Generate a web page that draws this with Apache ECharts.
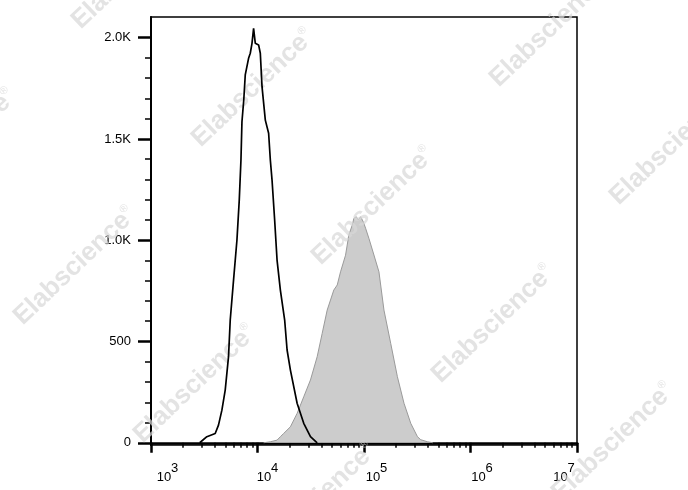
<!DOCTYPE html>
<html>
<head>
<meta charset="utf-8">
<script src="https://cdn.jsdelivr.net/npm/echarts@6/dist/echarts.min.js"></script>
<style>
html,body{margin:0;padding:0;background:#fff;}
#chart{width:688px;height:490px;}
</style>
</head>
<body>
<div id="chart"></div>
<script>
// ---- Data (fluorescence intensity, event count) ----
var blackIntensity = [2868, 3346, 4006, 4302, 4631, 4975, 5344, 5546, 5957, 6412, 6741, 6993, 7145, 7430, 7674, 8245, 8554, 8877, 9190, 9535, 10242, 10627, 11026, 11843, 12720, 13198, 13693, 14488, 15262, 16395, 17992, 18962, 20370, 23550, 27175, 31425, 36340];
var blackCount     = [0, 30, 46, 87, 161, 260, 425, 606, 803, 1001, 1198, 1396, 1585, 1692, 1816, 1898, 1923, 1972, 2046, 1972, 1964, 1923, 1758, 1593, 1528, 1396, 1297, 1100, 902, 754, 606, 458, 359, 195, 96, 30, 0];

var grayIntensity = [11413, 13198, 15262, 16395, 17614, 20370, 23550, 27175, 31425, 36340, 40490, 45110, 52060, 56070, 60220, 67090, 72070, 77600, 80340, 84620, 88370, 92900, 98490, 103540, 111220, 123940, 138160, 153970, 178070, 205900, 237500, 274700, 317700, 341200, 394500, 442600];
var grayCount     = [0, 5, 13, 30, 46, 79, 145, 227, 310, 425, 540, 655, 754, 779, 844, 926, 1026, 1075, 1108, 1116, 1100, 1116, 1091, 1059, 1009, 927, 844, 655, 491, 326, 195, 96, 30, 15, 5, 0];

// ---- Axis ticks ----
var xMajorExponents = [3, 4, 5, 6, 7];
var xMinorTickValues = [2000,3000,4000,5000,6000,7000,8000,9000,
                        20000,30000,40000,50000,60000,70000,80000,90000,
                        200000,300000,400000,500000,600000,700000,800000,900000,
                        2000000,3000000,4000000,5000000,6000000,7000000,8000000,9000000];
var yTickValues = [0, 500, 1000, 1500, 2000];
var yTickLabels = ['0', '500', '1.0K', '1.5K', '2.0K'];
var yMinorTickValues = [100,200,300,400,600,700,800,900,1100,1200,1300,1400,1600,1700,1800,1900];

// ---- build series data in log10 space ----
function toLog(xs, ys) {
  return xs.map(function (v, i) { return [Math.log10(v), ys[i]]; });
}
var blackData = toLog(blackIntensity, blackCount);
var grayData = toLog(grayIntensity, grayCount);

var FONT = "'Liberation Sans', Arial, sans-serif";

// per-label horizontal nudges (style only)
var xLabelPad = {3: [0, 0, 0, 33], 4: [0, 0, 0, 20], 5: [0, 0, 0, 25], 6: [0, 0, 0, 23], 7: [0, 26, 0, 0]};
var rich = {};
xMajorExponents.forEach(function (e) {
  rich['a' + e] = {fontSize: 13, fontFamily: FONT, color: '#000', verticalAlign: 'bottom', lineHeight: 13,
                   padding: [0, 0, 0, xLabelPad[e][3]]};
  rich['b' + e] = {fontSize: 13, fontFamily: FONT, color: '#000', verticalAlign: 'bottom', lineHeight: 13,
                   padding: [0, xLabelPad[e][1], 9, 0]};
});

// watermark lattice (decoration)
var wmCenters = [[133,-30],[253,88],[373,206],[493,324],[613,442],[551,28],[671,146],[-45,148],[75,266],[195,384],[315,502]];
var wmElements = wmCenters.map(function (c) {
  return {
    type: 'text', x: c[0], y: c[1], rotation: Math.PI / 4 * 0.97, z: 3,
    style: {
      text: 'Elabscience{r|®}',
      rich: {r: {fontSize: 11, fill: 'rgba(215,215,215,0.7)', verticalAlign: 'top', fontFamily: FONT}},
      font: "bold 26px " + FONT, fill: 'rgba(215,215,215,0.7)',
      align: 'center', verticalAlign: 'middle'
    },
    silent: true
  };
});

var chart = echarts.init(document.getElementById('chart'), null, {renderer: 'canvas'});
chart.setOption({
  animation: false,
  backgroundColor: '#fff',
  grid: {left: 151, top: 17, right: 111, bottom: 45, show: true, borderColor: '#000', borderWidth: 1.5, backgroundColor: 'transparent'},
  xAxis: [{
    type: 'value', min: 3, max: 7, interval: 1, position: 'bottom',
    axisLine: {show: true, lineStyle: {color: '#000', width: 2.5}},
    axisTick: {show: true, length: 10, lineStyle: {color: '#000', width: 2.5}},
    splitLine: {show: false},
    axisLabel: {
      show: true, margin: 26, color: '#000', fontFamily: FONT, fontSize: 13,
      formatter: function (v) {
        var e = Math.round(v);
        return '{a' + e + '|10}{b' + e + '|' + e + '}';
      },
      rich: rich
    }
  }, {
    type: 'value', min: 3, max: 7, position: 'bottom', offset: 0,
    axisLine: {show: false},
    axisLabel: {show: false},
    splitLine: {show: false},
    axisTick: {show: true, length: 5, lineStyle: {color: '#000', width: 1.5},
               customValues: xMinorTickValues.map(function (v) { return Math.log10(v); })}
  }],
  yAxis: [{
    type: 'value', min: -11, max: 2102, position: 'left',
    axisLine: {show: true, lineStyle: {color: '#000', width: 2}},
    axisTick: {show: true, length: 13, lineStyle: {color: '#000', width: 2.5}, customValues: yTickValues},
    splitLine: {show: false},
    axisLabel: {
      show: true, margin: 20, color: '#000', fontFamily: FONT, fontSize: 13,
      customValues: yTickValues,
      formatter: function (v) {
        var i = yTickValues.indexOf(Math.round(v));
        return i >= 0 ? yTickLabels[i] : '';
      }
    }
  }, {
    type: 'value', min: -11, max: 2102, position: 'left', offset: 0,
    axisLine: {show: false},
    axisLabel: {show: false},
    splitLine: {show: false},
    axisTick: {show: true, length: 6, lineStyle: {color: '#000', width: 1.5}, customValues: yMinorTickValues}
  }],
  graphic: {elements: wmElements},
  series: [{
    type: 'line', name: 'stained', data: grayData, xAxisIndex: 0, yAxisIndex: 0,
    showSymbol: false, symbol: 'none', z: 1,
    lineStyle: {color: '#9a9a9a', width: 1},
    areaStyle: {color: '#cccccc', opacity: 1}
  }, {
    type: 'line', name: 'control', data: blackData, xAxisIndex: 0, yAxisIndex: 0,
    showSymbol: false, symbol: 'none', z: 5,
    lineStyle: {color: '#000', width: 1.7}
  }]
});
</script>
</body>
</html>
